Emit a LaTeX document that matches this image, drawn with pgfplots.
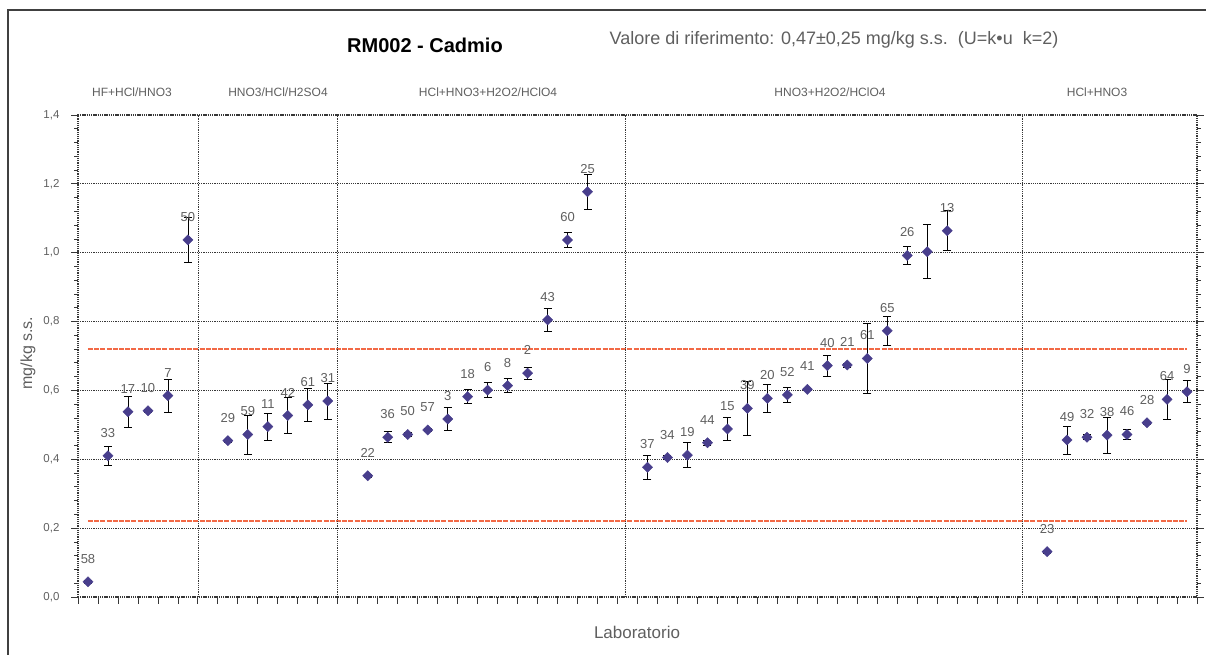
\documentclass[border=0pt]{standalone}
\usepackage{fontspec}
\setmainfont{Liberation Sans}
\usepackage{pgfplots}
\pgfplotsset{compat=1.18}

\definecolor{ptcol}{RGB}{72,62,140}
\definecolor{limcol}{RGB}{242,105,70}
\definecolor{gridc}{RGB}{55,55,55}
\definecolor{txt}{RGB}{95,95,95}

% lab, value, uncertainty; x = position along the axis
\pgfplotstableread{
x  y      e      lab
0  0.044  0.004  58
1  0.410  0.027  33
2  0.538  0.045  17
3  0.541  0.005  10
4  0.585  0.048  7
5  1.037  0.065  50
7  0.454  0.005  29
8  0.472  0.057  59
9  0.495  0.039  11
10 0.527  0.052  42
11 0.558  0.048  61
12 0.569  0.052  31
14 0.352  0.005  22
15 0.464  0.016  36
16 0.472  0.006  50
17 0.485  0.005  57
18 0.517  0.034  3
19 0.582  0.020  18
20 0.601  0.021  6
21 0.614  0.021  8
22 0.650  0.018  2
23 0.805  0.032  43
24 1.037  0.021  60
25 1.177  0.050  25
28 0.377  0.035  37
29 0.405  0.006  34
30 0.412  0.036  19
31 0.448  0.008  44
32 0.488  0.033  15
33 0.548  0.078  39
34 0.577  0.040  20
35 0.587  0.021  52
36 0.603  0.004  41
37 0.672  0.031  40
38 0.674  0.006  21
39 0.693  0.102  61
40 0.773  0.041  65
41 0.992  0.027  26
42 1.003  0.078  {}
43 1.064  0.058  13
48 0.132  0.004  23
49 0.456  0.041  49
50 0.464  0.007  32
51 0.470  0.052  38
52 0.472  0.014  46
53 0.506  0.004  28
54 0.574  0.057  64
55 0.596  0.032  9
}\labdata

\begin{document}
\begin{tikzpicture}[x=1pt,y=1pt]
\useasboundingbox (0,0) rectangle (1206,655);
% outer frame
\draw[line width=1.3pt, black!75] (8,-5) -- (8,645) -- (1212,645);

\node[font=\fontsize{20}{24}\selectfont\bfseries] at (425,610) {RM002 - Cadmio};
\node[font=\fontsize{18}{22}\selectfont, text=txt] at (834,615)
  {Valore di riferimento: 0,47±0,25 mg/kg s.s.\ \ (U=k•u\ \ k=2)};

\begin{axis}[
  at={(78pt,58pt)}, anchor=south west,
  scale only axis, width=1119pt, height=482pt,
  xmin=-0.5, xmax=55.5, ymin=0, ymax=1.4,
  xtick={-0.5,0.5,...,55.5}, xticklabels={},
  xtick pos=left,
  ytick={0,0.2,0.4,0.6,0.8,1.0,1.2,1.4},
  minor y tick num=4,
  ymajorgrids=true,
  tick align=outside,
  major tick length=7pt, minor tick length=4pt,
  tick style={gridc, line width=0.8pt},
  major grid style={gridc, line width=1.2pt, dash pattern=on 1.2pt off 1pt},
  axis line style={gridc, line width=1.2pt, dash pattern=on 1.2pt off 1pt},
  yticklabel style={font=\fontsize{11.5}{13}\selectfont, text=txt, xshift=-8pt,
    /pgf/number format/.cd, fixed, fixed zerofill, precision=1, use comma,
    assume math mode=true},
  clip=false,
]
% acceptance limits
\addplot[limcol, line width=1.8pt, dash pattern=on 5pt off 1.2pt] coordinates {(0,0.72) (55,0.72)};
\addplot[limcol, line width=1.8pt, dash pattern=on 5pt off 1.2pt] coordinates {(0,0.22) (55,0.22)};

% group separators
\foreach \s in {5.55,12.5,26.9,46.75}{
  \edef\tmp{\noexpand\draw[gridc, line width=1.2pt, dash pattern=on 1.2pt off 1pt]
    (axis cs:\s,0) -- (axis cs:\s,1.4);}\tmp
}

\addplot[only marks, mark=square*, mark size=3.6pt,
  mark options={rotate=45, fill=ptcol, draw=ptcol},
  nodes near coords, point meta=explicit symbolic,
  every node near coord/.append style={font=\fontsize{13}{15}\selectfont,
    text=txt, anchor=center, yshift=23pt},
  error bars/.cd, y dir=both, y explicit,
  error bar style={black, line width=0.7pt},
  error mark options={rotate=90, black, mark size=4pt, line width=0.7pt}]
  table[x=x, y=y, y error=e, meta=lab] {\labdata};
\end{axis}

% method groups
\begin{scope}[every node/.style={font=\fontsize{12}{14}\selectfont, text=txt}]
\node at (132,563) {HF+HCl/HNO3};
\node at (278,563) {HNO3/HCl/H2SO4};
\node at (488,563) {HCl+HNO3+H2O2/HClO4};
\node at (830,563) {HNO3+H2O2/HClO4};
\node at (1097,563) {HCl+HNO3};
\end{scope}

\node[font=\fontsize{16}{18}\selectfont, text=txt, rotate=90] at (28,302) {mg/kg s.s.};
\node[font=\fontsize{17}{20}\selectfont, text=txt] at (637,23) {Laboratorio};
\end{tikzpicture}
\end{document}
